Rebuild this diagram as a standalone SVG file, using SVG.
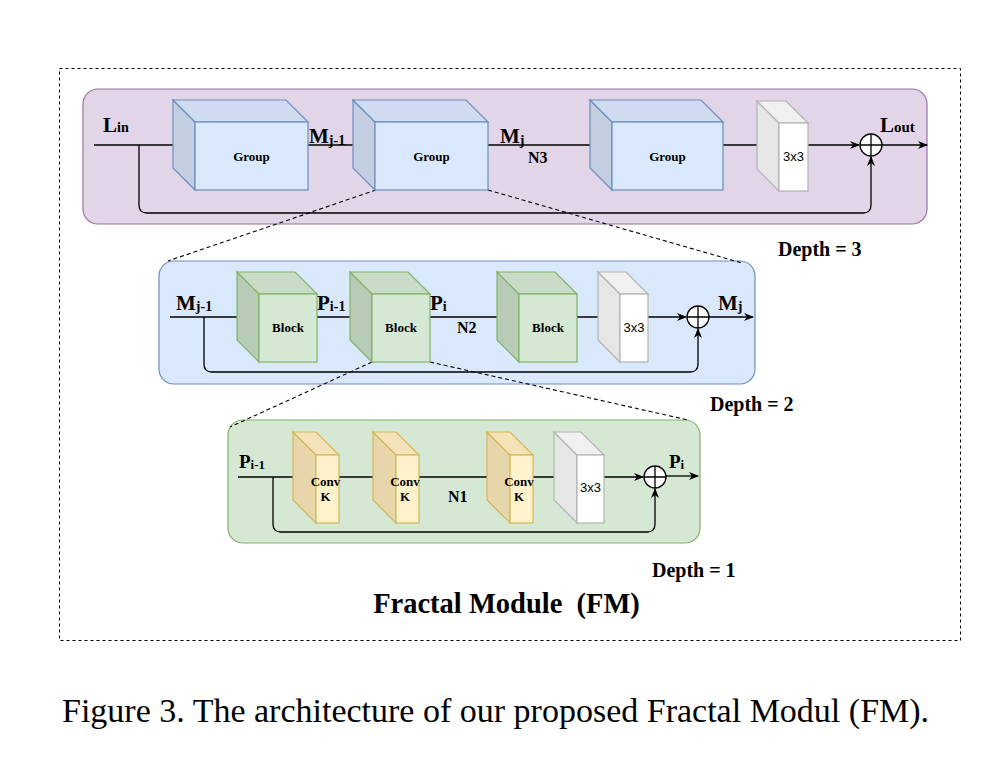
<svg xmlns="http://www.w3.org/2000/svg" width="1008" height="764" viewBox="0 0 1008 764">
<defs>
<marker id="arr" markerWidth="10" markerHeight="10" refX="9" refY="5" orient="auto" markerUnits="userSpaceOnUse">
<path d="M0,1 L10,5 L0,9 L3,5 z" fill="#000"/>
</marker>
<style>
.bg{fill:#fff}
.frame{fill:none;stroke:#000;stroke-width:1;stroke-dasharray:3 3}
.p3{fill:#e1d5e7;stroke:#9673a6;stroke-width:1.2}
.p2{fill:#dae8fc;stroke:#6c8ebf;stroke-width:1.2}
.p1{fill:#d5e8d4;stroke:#82b366;stroke-width:1.2}
.line{fill:none;stroke:#000;stroke-width:1.3}
.zoom{fill:none;stroke:#000;stroke-width:1.1;stroke-dasharray:4 3}
.gF{fill:#dae8fc;stroke:#6c8ebf;stroke-width:1.2}
.gS{fill:#c3cfe1;stroke:#6c8ebf;stroke-width:1.2}
.gT{fill:#cfdcef;stroke:#6c8ebf;stroke-width:1.2}
.bF{fill:#d5e8d4;stroke:#82b366;stroke-width:1.2}
.bS{fill:#b7cbb6;stroke:#82b366;stroke-width:1.2}
.bT{fill:#c8dcc7;stroke:#82b366;stroke-width:1.2}
.cF{fill:#fff2cc;stroke:#d6b656;stroke-width:1.2}
.cS{fill:#e8d6ab;stroke:#d6b656;stroke-width:1.2}
.cT{fill:#f4e3b8;stroke:#d6b656;stroke-width:1.2}
.wF{fill:#ffffff;stroke:#b3b3b3;stroke-width:1.2}
.wS{fill:#e6e6e6;stroke:#b3b3b3;stroke-width:1.2}
.wT{fill:#f0f0f0;stroke:#b3b3b3;stroke-width:1.2}
.plus{fill:#fff;stroke:#000;stroke-width:1.3}
.ser{font-family:"Liberation Serif","Times New Roman",serif;font-weight:bold;fill:#000}
.sans{font-family:"Liberation Sans",Arial,sans-serif;fill:#000;font-size:13px}
.lbl{font-size:21px}
.lbl2{font-size:19px}
.sub{font-size:14px}
.sub2{font-size:13px}
.in{font-size:13px;text-anchor:middle}
.depth{font-size:20px}
.n{font-size:16px}
.cap{font-family:"Liberation Serif","Times New Roman",serif;font-size:34px;fill:#000}
</style>
</defs>
<rect class="bg" x="0" y="0" width="1008" height="764"/>
<rect class="frame" x="59.5" y="68.5" width="901" height="572"/>

<g id="panels">
<rect id="panel-depth3" class="p3" x="83" y="89" width="844" height="135" rx="15"/>
<rect id="panel-depth2" class="p2" x="159" y="261" width="596" height="123" rx="15"/>
<rect id="panel-depth1" class="p1" x="228" y="420" width="472" height="123" rx="15"/>
</g>

<g id="connectors">
<path class="line" d="M94,145 H859" marker-end="url(#arr)"/>
<path class="line" d="M882,145 H927" marker-end="url(#arr)"/>
<path class="line" d="M139,145 V205 Q139,213 147,213 H863 Q871,213 871,205 V157" marker-end="url(#arr)"/>
<path class="line" d="M170,317 H686" marker-end="url(#arr)"/>
<path class="line" d="M709,317 H753" marker-end="url(#arr)"/>
<path class="line" d="M204,317 V364 Q204,372 212,372 H690 Q698,372 698,364 V329" marker-end="url(#arr)"/>
<path class="line" d="M238,477 H643" marker-end="url(#arr)"/>
<path class="line" d="M666,476 H698" marker-end="url(#arr)"/>
<path class="line" d="M273,477 V524 Q273,532 281,532 H647 Q655,532 655,524 V489" marker-end="url(#arr)"/>
<path class="zoom" d="M376,190 L168,261"/>
<path class="zoom" d="M488,190 L742,263"/>
<path class="zoom" d="M372,362 L230,427"/>
<path class="zoom" d="M430,362 L688,420"/>
</g>

<g id="group1">
<polygon class="gS" points="173,100 195,122 195,190 173,168"/>
<polygon class="gT" points="173,100 286,100 308,122 195,122"/>
<rect class="gF" x="195" y="122" width="113" height="68"/>
<text class="ser in" x="251.5" y="161">Group</text>
</g>
<g id="group2">
<polygon class="gS" points="353,100 375,122 375,190 353,168"/>
<polygon class="gT" points="353,100 466,100 488,122 375,122"/>
<rect class="gF" x="375" y="122" width="113" height="68"/>
<text class="ser in" x="431.5" y="161">Group</text>
</g>
<g id="group3">
<polygon class="gS" points="590,100 612,122 612,190 590,168"/>
<polygon class="gT" points="590,100 701,100 723,122 612,122"/>
<rect class="gF" x="612" y="122" width="111" height="68"/>
<text class="ser in" x="667.5" y="161">Group</text>
</g>
<g id="conv3x3-d3">
<polygon class="wS" points="757,101 779,123 779,191 757,169"/>
<polygon class="wT" points="757,101 786,101 808,123 779,123"/>
<rect class="wF" x="779" y="123" width="29" height="68"/>
<text class="sans" x="793.5" y="161" text-anchor="middle">3x3</text>
</g>
<g id="add-d3">
<circle class="plus" cx="871" cy="145" r="11"/>
<path class="line" d="M860,145 H882 M871,134 V156"/>
</g>

<g id="block1">
<polygon class="bS" points="237,272 259,294 259,362 237,340"/>
<polygon class="bT" points="237,272 295,272 317,294 259,294"/>
<rect class="bF" x="259" y="294" width="58" height="68"/>
<text class="ser in" x="288" y="332">Block</text>
</g>
<g id="block2">
<polygon class="bS" points="350,272 372,294 372,362 350,340"/>
<polygon class="bT" points="350,272 408,272 430,294 372,294"/>
<rect class="bF" x="372" y="294" width="58" height="68"/>
<text class="ser in" x="401" y="332">Block</text>
</g>
<g id="block3">
<polygon class="bS" points="497,272 519,294 519,362 497,340"/>
<polygon class="bT" points="497,272 555,272 577,294 519,294"/>
<rect class="bF" x="519" y="294" width="58" height="68"/>
<text class="ser in" x="548" y="332">Block</text>
</g>
<g id="conv3x3-d2">
<polygon class="wS" points="598,272 620,294 620,362 598,340"/>
<polygon class="wT" points="598,272 626,272 648,294 620,294"/>
<rect class="wF" x="620" y="294" width="28" height="68"/>
<text class="sans" x="634" y="332" text-anchor="middle">3x3</text>
</g>
<g id="add-d2">
<circle class="plus" cx="698" cy="317" r="11"/>
<path class="line" d="M687,317 H709 M698,306 V328"/>
</g>

<g id="conv1">
<polygon class="cS" points="293,432 316,455 316,523 293,500"/>
<polygon class="cT" points="293,432 316,432 339,455 316,455"/>
<rect class="cF" x="316" y="455" width="23" height="68"/>
<text class="ser in" x="325.5" y="486">Conv</text>
<text class="ser in" x="325.5" y="501">K</text>
</g>
<g id="conv2">
<polygon class="cS" points="373,432 396,455 396,523 373,500"/>
<polygon class="cT" points="373,432 396,432 419,455 396,455"/>
<rect class="cF" x="396" y="455" width="23" height="68"/>
<text class="ser in" x="405" y="486">Conv</text>
<text class="ser in" x="405" y="501">K</text>
</g>
<g id="conv3">
<polygon class="cS" points="487,432 510,455 510,523 487,500"/>
<polygon class="cT" points="487,432 510,432 533,455 510,455"/>
<rect class="cF" x="510" y="455" width="23" height="68"/>
<text class="ser in" x="519" y="486">Conv</text>
<text class="ser in" x="519" y="501">K</text>
</g>
<g id="conv3x3-d1">
<polygon class="wS" points="554,432 577,455 577,523 554,500"/>
<polygon class="wT" points="554,432 581,432 604,455 577,455"/>
<rect class="wF" x="577" y="455" width="27" height="68"/>
<text class="sans" x="590.5" y="492" text-anchor="middle">3x3</text>
</g>
<g id="add-d1">
<circle class="plus" cx="655" cy="477" r="11"/>
<path class="line" d="M644,477 H666 M655,466 V488"/>
</g>

<g id="labels">
<text class="ser lbl" x="103" y="132">L<tspan class="sub" font-size="15">in</tspan></text>
<text class="ser lbl" x="309" y="143">M<tspan class="sub" dy="2">j-1</tspan></text>
<text class="ser lbl" x="500" y="143">M<tspan class="sub" dy="2">j</tspan></text>
<text class="ser n" x="528" y="163">N3</text>
<text class="ser lbl" x="880" y="132">L<tspan font-size="15">out</tspan></text>
<text class="ser depth" x="778" y="256" font-size="21">Depth = 3</text>

<text class="ser lbl" x="176" y="310">M<tspan class="sub" dy="1">j-1</tspan></text>
<text class="ser lbl" x="317" y="310">P<tspan class="sub" dy="1">i-1</tspan></text>
<text class="ser lbl" x="430" y="310">P<tspan class="sub" dy="1">i</tspan></text>
<text class="ser n" x="457" y="333">N2</text>
<text class="ser lbl" x="718" y="310">M<tspan class="sub" dy="1">j</tspan></text>
<text class="ser depth" x="710" y="411" font-size="21">Depth = 2</text>

<text class="ser lbl2" x="239" y="468">P<tspan class="sub2" dy="1">i-1</tspan></text>
<text class="ser n" x="448" y="502">N1</text>
<text class="ser lbl2" x="669" y="468">P<tspan class="sub2" dy="1">i</tspan></text>
<text class="ser depth" x="652" y="577" font-size="19">Depth = 1</text>

<text class="ser" x="506.5" y="613" font-size="28.5" text-anchor="middle" xml:space="preserve">Fractal Module  (FM)</text>
</g>

<text class="cap" x="62" y="722">Figure 3. The architecture of our proposed Fractal Modul (FM).</text>
</svg>
